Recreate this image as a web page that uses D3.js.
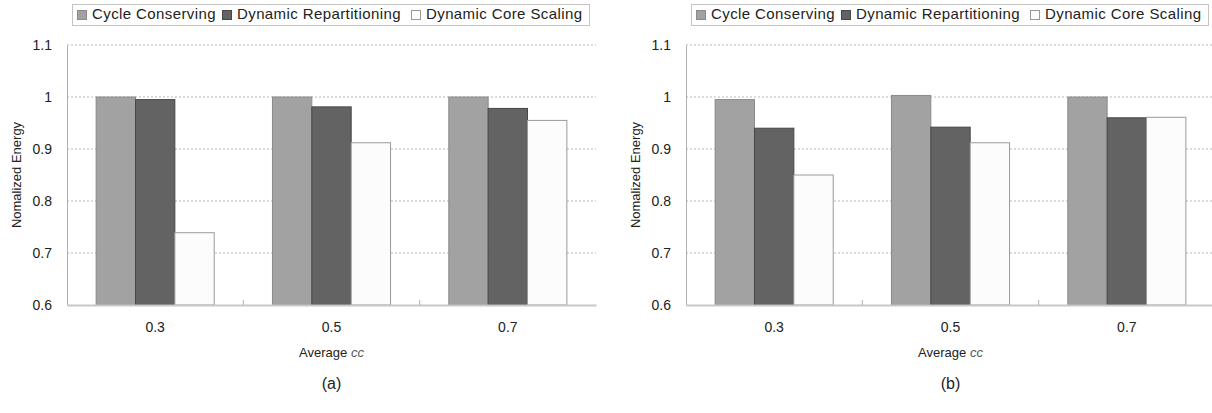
<script src="https://d3js.org/d3.v7.min.js"></script>
<style>
  body { margin: 0; background: #fff; }
  text { font-family: "Liberation Sans", Arial, sans-serif; fill: #222; }
</style>
<svg id="vis"></svg>

<script>
    // categories (average cc) and series
    var categories = ["0.3", "0.5", "0.7"];
    var series = ["Cycle Conserving", "Dynamic Repartitioning", "Dynamic Core Scaling"];
    var yTicks = [0.6, 0.7, 0.8, 0.9, 1, 1.1];

    // panel (a)
    var cycleA = [1.0, 1.0, 1.0];
    var repartA = [0.995, 0.981, 0.978];
    var coreA = [0.739, 0.912, 0.955];

    // panel (b)
    var cycleB = [0.995, 1.003, 1.0];
    var repartB = [0.94, 0.942, 0.96];
    var coreB = [0.85, 0.912, 0.961];

    var fills = ["#a2a2a2", "#636363", "#fcfcfc"];
    var strokes = ["#8a8a8a", "#474747", "#9a9a9a"];

    var svg = d3.select("#vis").attr("width", 1212).attr("height", 413);

    function drawPanel(offset, label, vals) {
        var g = svg.append("g").attr("transform", "translate(" + offset + ",0)");

        var left = 67, right = 596, top = 45, bottom = 305;

        var x0 = d3.scaleBand().domain(categories).range([left, right]);
        var x1 = d3.scaleBand().domain(series).range([0, x0.bandwidth()]).paddingOuter(0.74);
        var y = d3.scaleLinear().domain([0.6, 1.1]).range([bottom, top]);

        // gridlines
        g.append("g").selectAll("line")
            .data(yTicks.filter(function(d) { return d > 0.6; }))
            .enter().append("line")
            .attr("x1", left).attr("x2", right)
            .attr("y1", function(d) { return y(d); })
            .attr("y2", function(d) { return y(d); })
            .attr("stroke", "#b8b8b8")
            .attr("stroke-dasharray", "2,2");

        // y axis
        var yAxis = g.append("g")
            .attr("transform", "translate(" + left + ",0)")
            .call(d3.axisLeft(y).tickValues(yTicks).tickSize(0).tickPadding(15)
                .tickFormat(function(d) { return d3.format("")(d); }));
        yAxis.select(".domain").attr("stroke", "#b0b0b0");
        yAxis.selectAll("text").style("font-size", "14px").attr("fill", "#222");

        // bars
        var rows = categories.map(function(c, i) {
            return { cat: c, values: series.map(function(s, j) { return { s: s, j: j, v: vals[j][i] }; }) };
        });

        g.append("g").selectAll("g")
            .data(rows)
            .enter().append("g")
            .attr("transform", function(d) { return "translate(" + x0(d.cat) + ",0)"; })
            .selectAll("rect")
            .data(function(d) { return d.values; })
            .enter().append("rect")
            .attr("x", function(d) { return x1(d.s); })
            .attr("width", x1.bandwidth())
            .attr("y", function(d) { return y(d.v); })
            .attr("height", function(d) { return bottom - y(d.v); })
            .attr("fill", function(d) { return fills[d.j]; })
            .attr("stroke", function(d) { return strokes[d.j]; })
            .attr("stroke-width", 1);

        // x axis
        var xAxis = g.append("g")
            .attr("transform", "translate(0," + bottom + ")")
            .call(d3.axisBottom(x0).tickSize(0).tickPadding(17));
        xAxis.select(".domain").attr("stroke", "#c8c8c8").attr("stroke-width", 2);
        xAxis.selectAll("text").style("font-size", "14px").attr("fill", "#222");

        // small separators between groups
        g.append("g").selectAll("line")
            .data(categories.slice(1))
            .enter().append("line")
            .attr("x1", function(d) { return x0(d); })
            .attr("x2", function(d) { return x0(d); })
            .attr("y1", bottom - 5).attr("y2", bottom)
            .attr("stroke", "#b0b0b0");

        // axis titles
        g.append("text")
            .attr("transform", "translate(18," + ((top + bottom) / 2) + ") rotate(-90)")
            .attr("text-anchor", "middle")
            .attr("dominant-baseline", "middle")
            .style("font-size", "13px")
            .text("Nomalized Energy");

        var xt = g.append("text")
            .attr("x", (left + right) / 2)
            .attr("y", 357)
            .attr("text-anchor", "middle")
            .style("font-size", "13px");
        xt.append("tspan").text("Average ");
        xt.append("tspan").style("font-style", "italic").attr("fill", "#555").text("cc");

        g.append("text")
            .attr("x", (left + right) / 2)
            .attr("y", 389)
            .attr("text-anchor", "middle")
            .style("font-size", "16px")
            .text(label);

        // legend
        var lg = g.append("g");
        lg.append("rect")
            .attr("x", 72.5).attr("y", 4.5)
            .attr("width", 517).attr("height", 21)
            .attr("fill", "#fff")
            .attr("stroke", "#c4c4c4");

        var legX = [77, 222, 411];
        series.forEach(function(s, j) {
            lg.append("rect")
                .attr("x", legX[j] + 0.5).attr("y", 10.5)
                .attr("width", 9).attr("height", 9)
                .attr("fill", fills[j])
                .attr("stroke", strokes[j]);
            lg.append("text")
                .attr("x", legX[j] + 15)
                .attr("y", 15.5)
                .attr("dominant-baseline", "middle")
                .style("font-size", "15px")
                .style("letter-spacing", "0.4px")
                .text(s);
        });
    }

    drawPanel(0, "(a)", [cycleA, repartA, coreA]);
    drawPanel(619, "(b)", [cycleB, repartB, coreB]);
</script>
